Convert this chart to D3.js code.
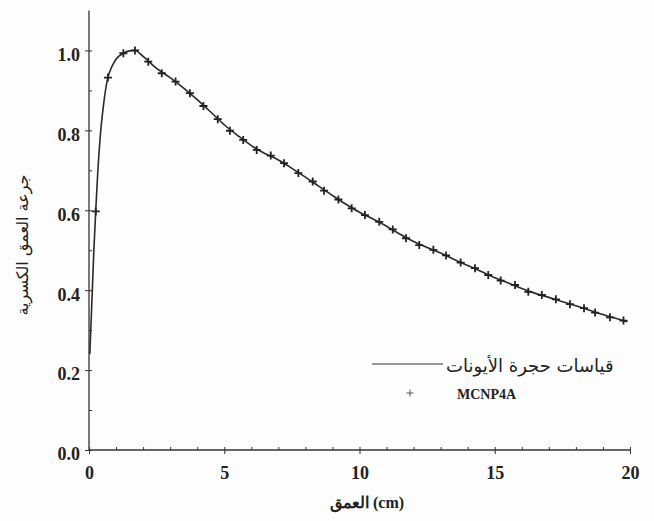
<!DOCTYPE html>
<html><head><meta charset="utf-8">
<script src="https://cdn.jsdelivr.net/npm/d3@7"></script>
<style>
html,body{margin:0;padding:0;background:#fdfdfd;}
</style></head>
<body>
<svg id="chart" width="654" height="521"></svg>
<script>
// Measured curve (ionization chamber)
const lineX = [0.03,0.1,0.18,0.25,0.32,0.41,0.53,0.69,0.85,1.0,1.27,1.5,1.7,2.0,2.5,3.0,3.5,4,4.5,5,5.5,6,6.5,7,7.5,8,8.5,9,9.5,10,10.5,11,11.5,12,12.5,13,13.5,14,14.5,15,15.5,16,16.5,17,17.5,18,18.5,19,19.5,19.9];
const lineY = [0.24,0.36,0.50,0.60,0.69,0.78,0.86,0.93,0.96,0.978,0.993,0.999,1.0,0.985,0.955,0.932,0.906,0.877,0.846,0.814,0.787,0.762,0.742,0.726,0.705,0.683,0.660,0.637,0.615,0.595,0.578,0.560,0.540,0.522,0.507,0.493,0.477,0.462,0.447,0.431,0.418,0.404,0.392,0.382,0.371,0.361,0.350,0.339,0.329,0.321];
// MCNP4A points
const mcnpX = [0.25,0.70,1.27,1.70,2.19,2.69,3.20,3.73,4.23,4.76,5.21,5.70,6.20,6.72,7.21,7.74,8.27,8.69,9.22,9.71,10.20,10.73,11.23,11.72,12.21,12.73,13.20,13.74,14.27,14.76,15.22,15.75,16.24,16.74,17.26,17.78,18.30,18.71,19.26,19.76];
const mcnpY = [0.597,0.932,0.993,1.000,0.972,0.943,0.922,0.893,0.861,0.828,0.799,0.776,0.751,0.737,0.718,0.693,0.672,0.649,0.627,0.605,0.588,0.571,0.552,0.530,0.513,0.501,0.487,0.469,0.455,0.438,0.424,0.413,0.396,0.388,0.377,0.365,0.355,0.344,0.332,0.324];
const xTicks = [0,5,10,15,20];
const yTicks = [0,0.2,0.4,0.6,0.8,1.0];
const xMinor = d3.range(0,21,1);
const yMinor = d3.range(0,11,1).map(d=>d/10);
const legendLabels = ["قياسات حجرة الأيونات","MCNP4A"];
const xTitle = "العمق (cm)";
const yTitle = "جرعة العمق الكسرية";

const serif = "'Liberation Serif','DejaVu Serif',serif";
const arabic = "'DejaVu Serif','DejaVu Sans',serif";
const svg = d3.select("#chart");
const x = d3.scaleLinear().domain([0,20]).range([89,630]);
const y = d3.scaleLinear().domain([0,1.1]).range([450,10.5]);
const ink = "#333";

// minor ticks (inward)
const gx = svg.append("g").attr("transform",`translate(0,${y(0)})`);
gx.call(d3.axisBottom(x).tickValues(xMinor).tickSize(-3).tickFormat("")).call(g=>g.select(".domain").remove());
gx.selectAll("line").attr("stroke",ink).attr("stroke-width",1);
const gy = svg.append("g").attr("transform",`translate(${x(0)},0)`);
gy.call(d3.axisLeft(y).tickValues(yMinor).tickSize(-3).tickFormat("")).call(g=>g.select(".domain").remove());
gy.selectAll("line").attr("stroke",ink).attr("stroke-width",1);

// major axes
const ax = svg.append("g").attr("transform",`translate(0,${y(0)})`)
  .call(d3.axisBottom(x).tickValues(xTicks).tickSize(4).tickSizeOuter(0).tickPadding(12).tickFormat(d3.format("d")));
ax.select(".domain").attr("d",`M${x(0)},0H${x(20)}`).attr("stroke",ink).attr("stroke-width",1.3);
ax.selectAll("line").attr("stroke",ink);
ax.selectAll("text").style("font-size","18px").style("font-weight","bold").style("font-family",serif).style("fill","#222");

const ay = svg.append("g").attr("transform",`translate(${x(0)},0)`)
  .call(d3.axisLeft(y).tickValues(yTicks).tickSize(4).tickSizeOuter(0).tickPadding(5).tickFormat(d3.format(".1f")));
ay.select(".domain").attr("d",`M0,${y(0)}V${y(1.1)}`).attr("stroke",ink).attr("stroke-width",1.3);
ay.selectAll("line").attr("stroke",ink);
ay.selectAll("text").style("font-size","18px").style("font-weight","bold").style("font-family",serif).style("fill","#222").attr("dy","0.55em");

// curve
const lineData = lineX.map((v,i)=>[v,lineY[i]]);
svg.append("path").datum(lineData)
  .attr("d",d3.line().x(d=>x(d[0])).y(d=>y(d[1])).curve(d3.curveMonotoneX))
  .attr("fill","none").attr("stroke","#2a2a2a").attr("stroke-width",1.6);

// markers
const pts = mcnpX.map((v,i)=>[v,mcnpY[i]]);
const mk = svg.append("g").selectAll("g").data(pts).join("g")
  .attr("transform",d=>`translate(${x(d[0])},${y(d[1])})`);
mk.append("path").attr("d","M-4,0H4M0,-4V4").attr("stroke","#222").attr("stroke-width",1.8);

// legend
const lg = svg.append("g");
lg.append("line").attr("x1",372).attr("x2",443).attr("y1",364).attr("y2",364).attr("stroke","#333").attr("stroke-width",1.2);
lg.append("text").attr("x",446).attr("y",372).style("font-size","18px").style("font-family",arabic).style("fill","#222")
  .attr("direction","rtl").attr("text-anchor","end").text(legendLabels[0]);
lg.append("path").attr("transform","translate(410,393)").attr("d","M-3.5,0H3.5M0,-3.5V3.5").attr("stroke","#555").attr("stroke-width",1);
lg.append("text").attr("x",457).attr("y",399).style("font-size","14px").style("font-weight","bold").style("font-family",serif).style("fill","#222").text(legendLabels[1]);

// titles
svg.append("text").attr("x",367).attr("y",508).attr("text-anchor","middle").style("font-size","16px").style("font-weight","bold")
  .style("font-family",serif).style("fill","#222").text(xTitle);
svg.append("text").attr("transform","translate(28,245) rotate(-90)").attr("text-anchor","middle").style("font-size","16px")
  .style("font-family",arabic).style("fill","#222").text(yTitle);
</script>
</body></html>
